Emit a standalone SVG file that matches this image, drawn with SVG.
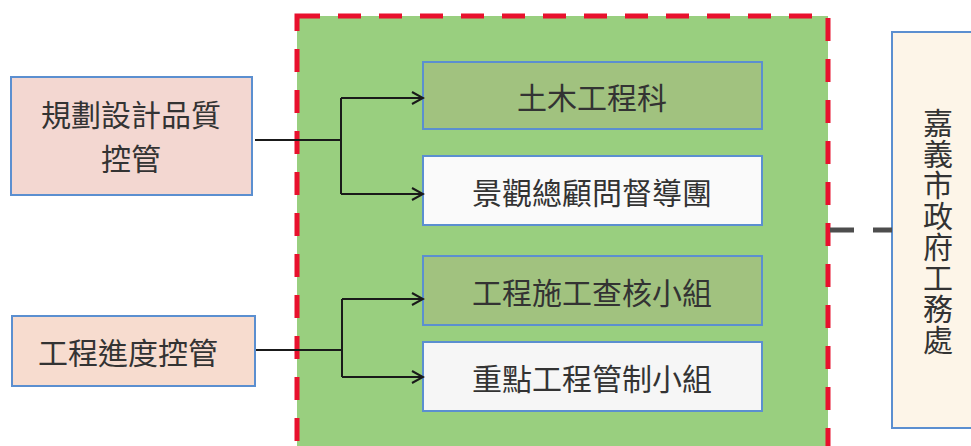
<svg xmlns="http://www.w3.org/2000/svg" width="971" height="446" viewBox="0 0 971 446">
<defs>
<style>
.t{font-family:"Noto Sans CJK TC","Noto Sans CJK SC",sans-serif;font-size:30px;fill:#333333;text-anchor:middle;dominant-baseline:central}
.box{stroke:#5b8fd0;stroke-width:2}
.con{fill:none;stroke:#1a1a1a;stroke-width:2}
</style>
<marker id="arr" markerWidth="14" markerHeight="14" refX="12" refY="7" orient="auto" markerUnits="userSpaceOnUse">
<path d="M1,1 L12,7 L1,13" fill="none" stroke="#1a1a1a" stroke-width="2"/>
</marker>
</defs>
<rect width="971" height="446" fill="#ffffff"/>
<g id="container">
<rect x="297" y="16" width="531" height="440" fill="#99cf7f" stroke="#e8112d" stroke-width="5" stroke-dasharray="23 18"/>
</g>
<g id="n-plan">
<rect class="box" x="11" y="77" width="241" height="118" fill="#f3d7d1"/>
<text class="t" x="131" y="113">規劃設計品質</text>
<text class="t" x="131" y="157">控管</text>
</g>
<g id="n-progress">
<rect class="box" x="12" y="316" width="243" height="70" fill="#f7dccf"/>
<text class="t" x="128" y="351">工程進度控管</text>
</g>
<g id="n-civil">
<rect class="box" x="423" y="62" width="339" height="67" fill="#a1c27f"/>
<text class="t" x="592" y="96">土木工程科</text>
</g>
<g id="n-landscape">
<rect class="box" x="423" y="156" width="339" height="69" fill="#fafafa"/>
<text class="t" x="592" y="191">景觀總顧問督導團</text>
</g>
<g id="n-audit">
<rect class="box" x="423" y="256" width="339" height="69" fill="#a1c27f"/>
<text class="t" x="592" y="291">工程施工查核小組</text>
</g>
<g id="n-control">
<rect class="box" x="423" y="342" width="339" height="69" fill="#f6f6f6"/>
<text class="t" x="592" y="377">重點工程管制小組</text>
</g>
<g id="n-bureau">
<rect class="box" x="892" y="32" width="90" height="396" fill="#fdf5e8"/>
<text class="t" x="938" y="121">嘉</text>
<text class="t" x="938" y="152">義</text>
<text class="t" x="938" y="183">市</text>
<text class="t" x="938" y="214">政</text>
<text class="t" x="938" y="245">府</text>
<text class="t" x="938" y="276">工</text>
<text class="t" x="938" y="307">務</text>
<text class="t" x="938" y="338">處</text>
</g>
<g id="connectors">
<path class="con" d="M255,140 H341 M341,98 V194"/>
<path class="con" d="M341,98 H423" marker-end="url(#arr)"/>
<path class="con" d="M341,194 H423" marker-end="url(#arr)"/>
<path class="con" d="M256,350 H342 M342,299 V377"/>
<path class="con" d="M342,299 H423" marker-end="url(#arr)"/>
<path class="con" d="M342,377 H423" marker-end="url(#arr)"/>
<path d="M830,230 H892" fill="none" stroke="#4d4d4d" stroke-width="5" stroke-dasharray="24 19"/>
</g>
</svg>
